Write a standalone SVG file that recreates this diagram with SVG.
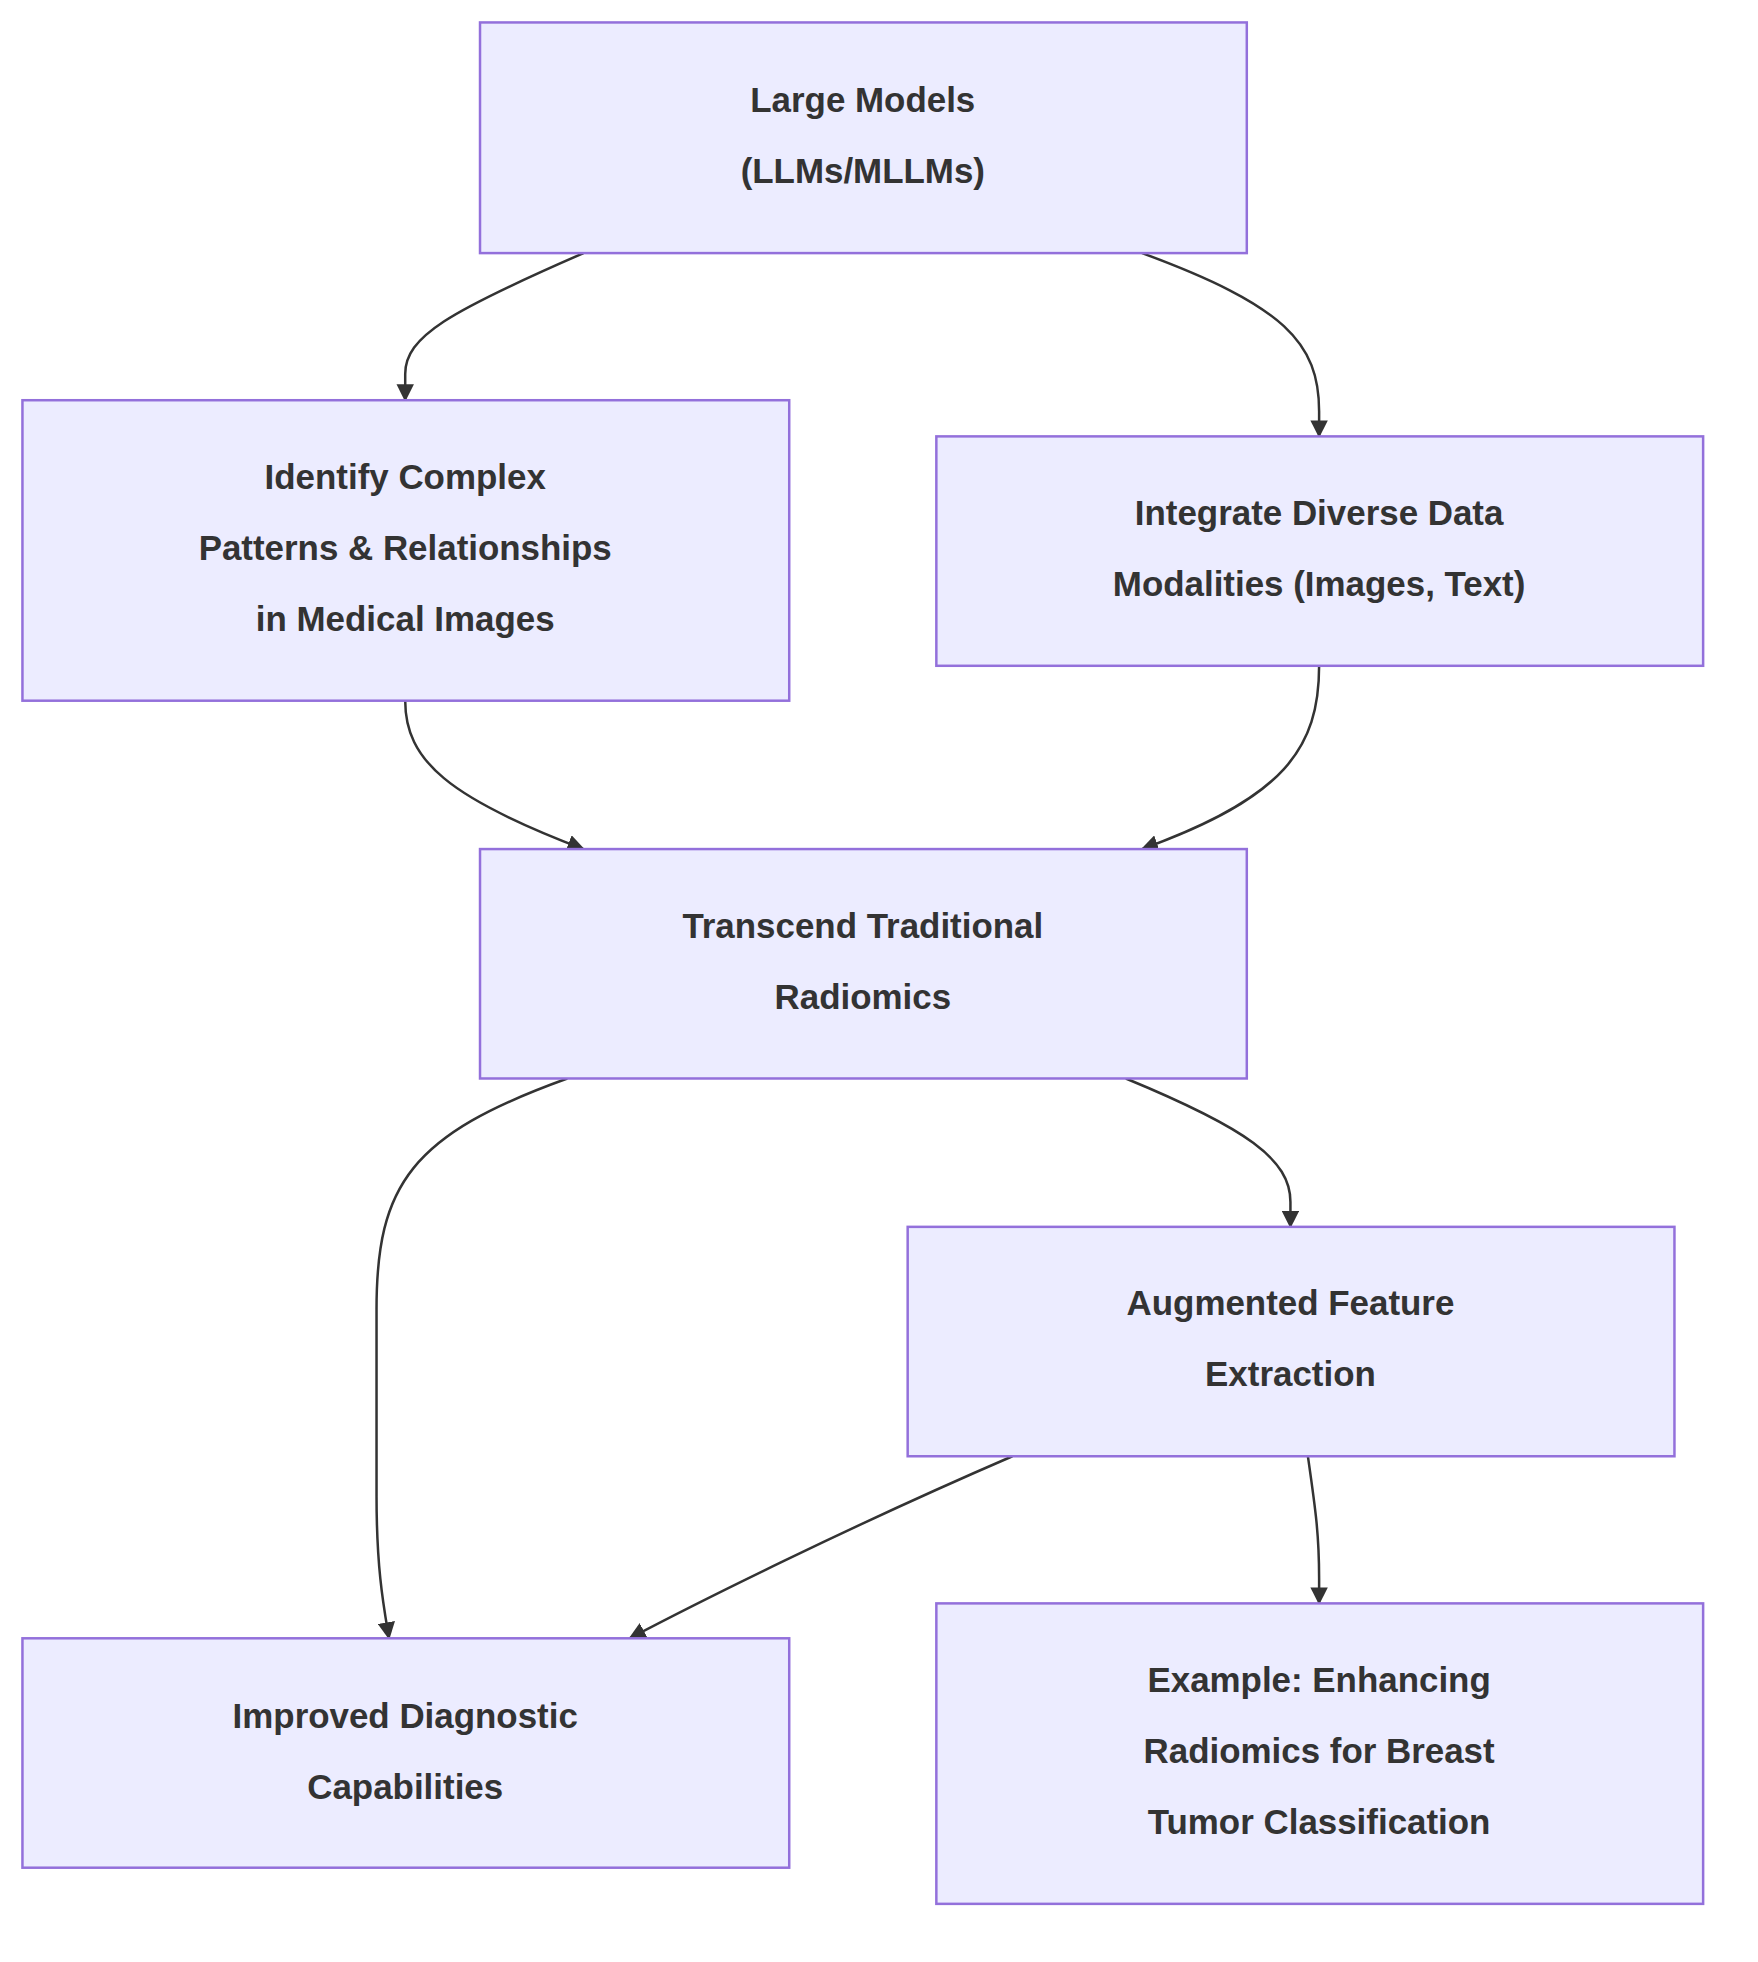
<svg xmlns="http://www.w3.org/2000/svg" width="1758" height="1962" viewBox="0 0 1758 1962">
<style>
.n rect{fill:#ECECFF;stroke:#9370DB;stroke-width:2}
.n text{font-family:"Liberation Sans",Arial,sans-serif;font-weight:bold;font-size:28px;fill:#333;text-anchor:middle;dominant-baseline:central}
.e path{fill:none;stroke:#333;stroke-width:2;marker-end:url(#a)}
</style>
<defs><marker id="a" markerUnits="userSpaceOnUse" markerWidth="14" markerHeight="14" viewBox="0 0 12 12" refX="11" refY="6" orient="auto"><path d="M0,0L12,6L0,12z" fill="#333"/></marker></defs>
<rect width="1758" height="1962" fill="#fff"/>
<g transform="scale(1.2468)">
<g class="e">
<path d="M468,203C360,250 325,270 325,300L325,321"/>
<path d="M916,203C1030,245 1058,275 1058,330L1058,350"/>
<path d="M325,562C325,610 360,640 468,681"/>
<path d="M1058,534C1058,600 1030,640 916,681"/>
<path d="M455,865C330,910 302,950 302,1050L302,1200C302,1260 308,1290 312,1314"/>
<path d="M903,865C1000,905 1035,930 1035,964L1035,984"/>
<path d="M812,1168C680,1225 560,1285 505,1314"/>
<path d="M1049,1168C1055,1210 1058,1230 1058,1266L1058,1286"/>
</g>
<g id="n1" class="n"><rect x="385" y="18" width="615" height="185"/><text x="692" y="80">Large Models</text><text x="692" y="137">(LLMs/MLLMs)</text></g>
<g id="n2" class="n"><rect x="18" y="321" width="615" height="241"/><text x="325" y="382">Identify Complex</text><text x="325" y="439">Patterns &amp; Relationships</text><text x="325" y="496">in Medical Images</text></g>
<g id="n3" class="n"><rect x="751" y="350" width="615" height="184"/><text x="1058" y="411">Integrate Diverse Data</text><text x="1058" y="468">Modalities (Images, Text)</text></g>
<g id="n4" class="n"><rect x="385" y="681" width="615" height="184"/><text x="692" y="742">Transcend Traditional</text><text x="692" y="799">Radiomics</text></g>
<g id="n5" class="n"><rect x="728" y="984" width="615" height="184"/><text x="1035" y="1045">Augmented Feature</text><text x="1035" y="1102">Extraction</text></g>
<g id="n6" class="n"><rect x="18" y="1314" width="615" height="184"/><text x="325" y="1376">Improved Diagnostic</text><text x="325" y="1433">Capabilities</text></g>
<g id="n7" class="n"><rect x="751" y="1286" width="615" height="241"/><text x="1058" y="1347">Example: Enhancing</text><text x="1058" y="1404">Radiomics for Breast</text><text x="1058" y="1461">Tumor Classification</text></g>
</g>
</svg>
